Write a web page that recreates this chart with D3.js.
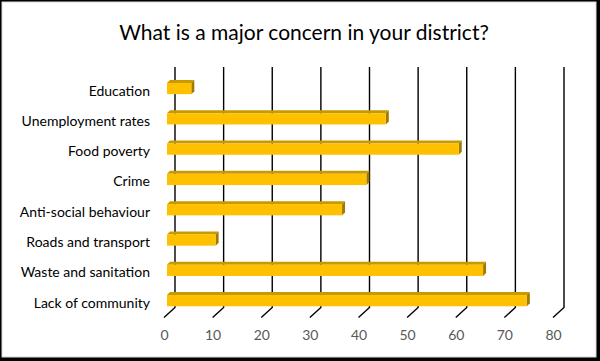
<!DOCTYPE html>
<html>
<head>
<meta charset="utf-8">
<script src="https://cdn.jsdelivr.net/npm/d3@7"></script>
<style>
	body { margin: 0; background: #fff; }
	text { font-family: Lato, "Liberation Sans", sans-serif; }
</style>
</head>
<body>
<div id="canvas"></div>
<script>
const categories = ["Education", "Unemployment rates", "Food poverty", "Crime",
	"Anti-social behaviour", "Roads and transport", "Waste and sanitation ", "Lack of community"];
const values = [5, 45, 60, 41, 36, 10, 65, 74];
const tickValues = [0, 10, 20, 30, 40, 50, 60, 70, 80];
const title = "What is a major concern in your district?";

const width = 600, height = 361;
const svg = d3.select("#canvas").append("svg")
	.attr("width", width).attr("height", height);

// frame
svg.append("rect").attr("width", width).attr("height", height).attr("fill", "#000");
svg.append("rect").attr("x", 2).attr("y", 2).attr("width", 594).attr("height", 355)
	.attr("fill", "#fff").attr("stroke", "#d9d9d9").attr("stroke-width", 1);

svg.append("text")
	.attr("x", 304).attr("y", 40)
	.attr("text-anchor", "middle")
	.attr("font-size", 21)
	.attr("fill", "#000")
	.text(title);

// back wall scale, floor front scale
const wallTop = 67, wallBottom = 307.5;
const depth = [-11, 10];
const x = d3.scaleLinear().domain([0, 80]).range([175, 564]);
const xFloor = d3.scaleLinear().domain([0, 80]).range([175 + depth[0], 564 + depth[0]]);

const y = d3.scaleBand().domain(categories)
	.range([73.4, 315.8]).paddingInner(0.63).paddingOuter(0.315);

// gridlines on the back wall plus the floor ticks
const grid = svg.append("g");
tickValues.forEach(t => {
	grid.append("path")
		.attr("d", `M${x(t)},${wallTop}V${wallBottom}l${depth[0]},${depth[1]}`)
		.attr("fill", "none").attr("stroke", "#000").attr("stroke-width", 1.4);
});

// axis labels
const axis = svg.append("g")
	.attr("transform", `translate(0,${wallBottom + depth[1] + 13})`)
	.call(d3.axisBottom(xFloor).tickValues(tickValues).tickSize(0).tickPadding(0));
axis.select(".domain").remove();
axis.selectAll("text").attr("font-size", 14).attr("fill", "#595959")
	.attr("font-family", "Lato, sans-serif");

// 3d bars
const barFront = -8, barDx = 3, barDy = -3;
const bars = svg.append("g");
categories.forEach((c, i) => {
	const x0 = x(0) + barFront, x1 = x(values[i]) + barFront;
	const y0 = y(c), h = y.bandwidth();
	// top face
	bars.append("path")
		.attr("d", `M${x0},${y0}l${barDx},${barDy}H${x1 + barDx}l${-barDx},${-barDy}Z`)
		.attr("fill", "#c99a00");
	// side face
	bars.append("path")
		.attr("d", `M${x1},${y0}l${barDx},${barDy}v${h}l${-barDx},${-barDy}Z`)
		.attr("fill", "#a07a00");
	// front face
	bars.append("rect")
		.attr("x", x0).attr("y", y0)
		.attr("width", x1 - x0).attr("height", h)
		.attr("fill", "#ffc000");
});

// category labels
svg.append("g").selectAll("text")
	.data(categories)
	.join("text")
	.attr("x", 150)
	.attr("y", d => y(d) + y.bandwidth() / 2 + 1.5)
	.attr("dominant-baseline", "central")
	.attr("text-anchor", "end")
	.attr("font-size", 14)
	.attr("fill", "#000")
	.text(d => d);
</script>
</body>
</html>
